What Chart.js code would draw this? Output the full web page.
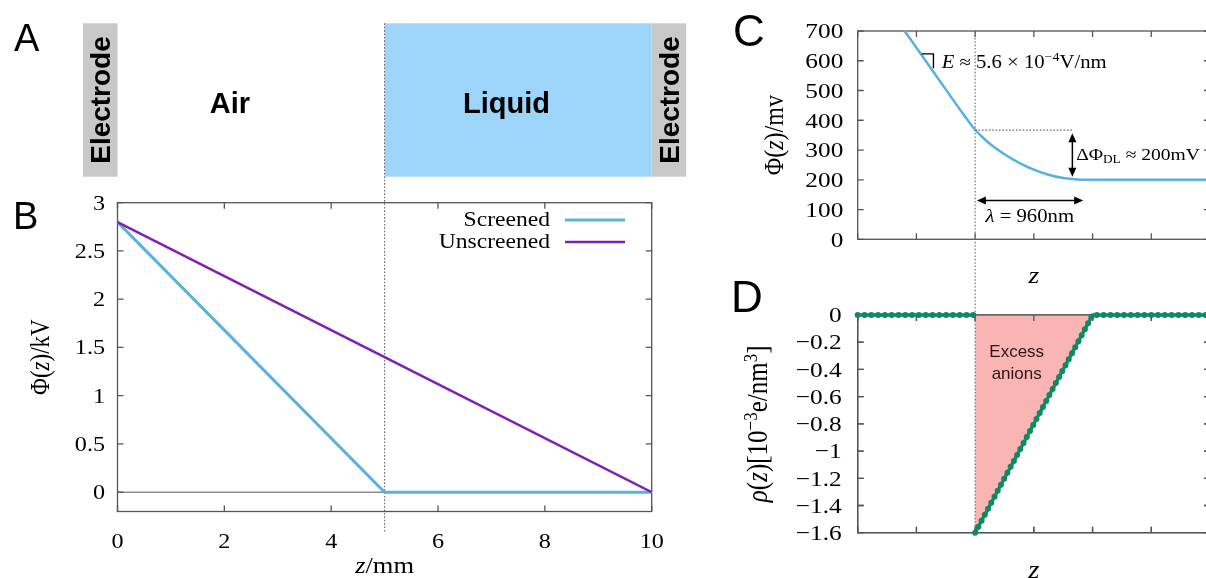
<!DOCTYPE html>
<html>
<head>
<meta charset="utf-8">
<script src="https://cdn.jsdelivr.net/npm/chart.js@4.4.1/dist/chart.umd.min.js"></script>
<style>
  html, body { margin:0; padding:0; background:#fff; width:1206px; height:578px; overflow:hidden; }
  .lbl { position:absolute; font-family:"Liberation Sans", Arial, sans-serif; line-height:1; color:#000; }
  canvas { position:absolute; }
</style>
</head>
<body>
<canvas id="cB" width="690" height="578" style="left:0;top:0"></canvas>
<canvas id="cC" width="520" height="290" style="left:700px;top:0"></canvas>
<canvas id="cD" width="520" height="288" style="left:700px;top:290px"></canvas>
<div class="lbl" style="left:14px;top:19px;font-size:38px">A</div>
<div class="lbl" style="left:13px;top:197px;font-size:38px">B</div>
<div class="lbl" style="left:733px;top:9px;font-size:44px">C</div>
<div class="lbl" style="left:731px;top:275px;font-size:44px">D</div>
<script>
// ---------------- data ----------------
const zB = [0, 5, 10];
const screenedB = [2.8, 0, 0];
const unscreenedB = [2.8, 1.4, 0];
const seriesNamesB = ['Screened', 'Unscreened'];
const xTicksB = [0, 2, 4, 6, 8, 10];
const xLabelsB = ['0', '2', '4', '6', '8', '10'];
const yTicksB = [0, 0.5, 1, 1.5, 2, 2.5, 3];
const yLabelsB = ['0', '0.5', '1', '1.5', '2', '2.5', '3'];

const zC = [0.8, 1.3, 1.8, 1.9, 2.0, 2.1, 2.25, 2.5, 2.75, 3.0, 3.25, 3.5, 3.75, 4.0, 6.0];
const phiC = [700, 560, 420, 393, 368, 348, 321, 286, 257, 234, 217, 206, 201, 200, 200];
const xTicksCD = [0, 1, 2, 3, 4, 5, 6];
const yTicksC = [0, 100, 200, 300, 400, 500, 600, 700];
const yLabelsC = ['0', '100', '200', '300', '400', '500', '600', '700'];

const zD = [0, 2, 2, 2, 4, 6];
const rhoD = [0, 0, null, -1.6, 0, 0];
const zExcess = [2, 4];
const rhoExcess = [-1.6, 0];
const yTicksD = [0, -0.2, -0.4, -0.6, -0.8, -1, -1.2, -1.4, -1.6];
const yLabelsD = ['0', '\u22120.2', '\u22120.4', '\u22120.6', '\u22120.8', '\u22121', '\u22121.2', '\u22121.4', '\u22121.6'];

// ---------------- styles ----------------
const BLUE = '#58b1e4';
const PURPLE = '#8020b0';
const GREEN = '#0f8a5f';
const PINK = '#f9b4b4';
const FRAME = '#555555';
const TICK = 6;
const SERIF = '"Liberation Serif", "Times New Roman", serif';
const SANS = '"Liberation Sans", Arial, sans-serif';
const SX = 1.15;

const pts = (xs, ys) => xs.map((x, i) => ({x: x, y: ys[i]}));
const T = (t, o) => Object.assign({t: t}, o || {});

function fontFor(s, size) {
  const sz = (s.sup || s.sub) ? size * 0.68 : size;
  return (s.i ? 'italic ' : '') + sz.toFixed(1) + 'px ' + SERIF;
}
function rich(ctx, segs, x, y, size, align, rotate, color) {
  ctx.save();
  ctx.translate(x, y);
  ctx.scale(SX, 1);
  if (rotate) ctx.rotate(-Math.PI / 2);
  let w = 0;
  for (const s of segs) { ctx.font = fontFor(s, size); w += ctx.measureText(s.t).width; }
  let cx = align === 'center' ? -w / 2 : (align === 'right' ? -w : 0);
  ctx.fillStyle = color || '#000';
  ctx.textBaseline = 'alphabetic';
  ctx.textAlign = 'left';
  const base = size * 0.33;
  for (const s of segs) {
    ctx.font = fontFor(s, size);
    const dy = s.sup ? -size * 0.36 : (s.sub ? size * 0.2 : 0);
    ctx.fillText(s.t, cx, base + dy);
    cx += ctx.measureText(s.t).width;
  }
  ctx.restore();
}
function dotted(ctx, x1, y1, x2, y2) {
  ctx.save();
  ctx.strokeStyle = '#6a6a6a'; ctx.lineWidth = 1.1; ctx.setLineDash([1.6, 1.8]);
  ctx.beginPath(); ctx.moveTo(x1, y1); ctx.lineTo(x2, y2); ctx.stroke();
  ctx.restore();
}
function head(ctx, x, y, a) {
  const L = 9, W = 4;
  const c = Math.cos(a), s = Math.sin(a);
  ctx.beginPath();
  ctx.moveTo(x, y);
  ctx.lineTo(x - L * c + W * s, y - L * s - W * c);
  ctx.lineTo(x - L * c - W * s, y - L * s + W * c);
  ctx.closePath(); ctx.fill();
}
function dblArrow(ctx, x1, y1, x2, y2) {
  const a = Math.atan2(y2 - y1, x2 - x1), c = Math.cos(a), s = Math.sin(a);
  ctx.save();
  ctx.strokeStyle = '#000'; ctx.fillStyle = '#000'; ctx.lineWidth = 1.5;
  ctx.beginPath(); ctx.moveTo(x1 + 6 * c, y1 + 6 * s); ctx.lineTo(x2 - 6 * c, y2 - 6 * s); ctx.stroke();
  head(ctx, x2, y2, a); head(ctx, x1, y1, a + Math.PI);
  ctx.restore();
}
function drawFrame(chart) {
  const ctx = chart.ctx, a = chart.chartArea, x = chart.scales.x, y = chart.scales.y;
  ctx.save();
  ctx.strokeStyle = FRAME; ctx.lineWidth = 1.3;
  ctx.beginPath();
  x.ticks.forEach(t => {
    const p = x.getPixelForValue(t.value);
    ctx.moveTo(p, a.bottom); ctx.lineTo(p, a.bottom - TICK);
    ctx.moveTo(p, a.top); ctx.lineTo(p, a.top + TICK);
  });
  y.ticks.forEach(t => {
    const p = y.getPixelForValue(t.value);
    ctx.moveTo(a.left, p); ctx.lineTo(a.left + TICK, p);
    ctx.moveTo(a.right, p); ctx.lineTo(a.right - TICK, p);
  });
  ctx.stroke();
  ctx.strokeRect(a.left, a.top, a.right - a.left, a.bottom - a.top);
  ctx.restore();
}
function axes(o) {
  return {
    x: { type: 'linear', min: o.xmin, max: o.xmax, grid: {display: false}, border: {display: false}, ticks: {display: false},
         afterBuildTicks: s => { s.ticks = o.xTicks.map(v => ({value: v})); },
         afterFit: s => { s.height = o.xh; } },
    y: { type: 'linear', min: o.ymin, max: o.ymax, grid: {display: false}, border: {display: false}, ticks: {display: false},
         afterBuildTicks: s => { s.ticks = o.yTicks.map(v => ({value: v})); },
         afterFit: s => { s.width = o.yw; } }
  };
}
function baseOptions(pad, scales) {
  return { responsive: false, animation: false, events: [], layout: {padding: pad},
           plugins: {legend: {display: false}, tooltip: {enabled: false}}, scales: scales };
}
function axisDeco(o) {
  return {
    id: 'axisDeco',
    beforeDatasetsDraw(chart) { drawFrame(chart); },
    afterDraw(chart) {
      const ctx = chart.ctx, x = chart.scales.x, y = chart.scales.y, a = chart.chartArea;
      if (o.yLabels) y.ticks.forEach((t, i) => rich(ctx, [T(o.yLabels[i])], o.yLabelX, y.getPixelForValue(t.value), o.fs, 'right'));
      if (o.xLabels) x.ticks.forEach((t, i) => rich(ctx, [T(o.xLabels[i])], x.getPixelForValue(t.value), o.xLabelY, o.fs, 'center'));
      rich(ctx, o.yTitle, o.yTitleX, (a.top + a.bottom) / 2, o.tfs, 'center', true);
      rich(ctx, o.xTitle, (a.left + a.right) / 2, o.xTitleY, o.tfs, 'center');
    }
  };
}

// ---------------- Panel A + B ----------------
const schematic = {
  id: 'schematic',
  beforeDatasetsDraw(chart) {
    const ctx = chart.ctx, x = chart.scales.x, y = chart.scales.y, a = chart.chartArea;
    const top = 23.3, bot = 176.7, ew = 34.5;
    const x0 = x.getPixelForValue(0), x5 = x.getPixelForValue(5), x10 = x.getPixelForValue(10);
    ctx.save();
    ctx.fillStyle = '#c8c8c8';
    ctx.fillRect(x0 - ew, top, ew, bot - top);
    ctx.fillRect(x10, top, ew, bot - top);
    ctx.fillStyle = '#9dd5fa';
    ctx.fillRect(x5, top, x10 - x5, bot - top);
    ctx.fillStyle = '#000';
    ctx.font = 'bold 28px ' + SANS;
    ctx.textAlign = 'center'; ctx.textBaseline = 'alphabetic';
    [x0 - ew / 2, x10 + ew / 2].forEach(cx => {
      ctx.save(); ctx.translate(cx + 10, (top + bot) / 2); ctx.rotate(-Math.PI / 2);
      ctx.fillText('Electrode', 0, 0); ctx.restore();
    });
    ctx.font = 'bold 29px ' + SANS;
    ctx.fillText('Air', 230, 113);
    ctx.fillText('Liquid', 506.5, 113);
    ctx.restore();
    // zero axis
    ctx.save();
    ctx.strokeStyle = '#555'; ctx.lineWidth = 1;
    ctx.beginPath(); ctx.moveTo(a.left, y.getPixelForValue(0)); ctx.lineTo(a.right, y.getPixelForValue(0)); ctx.stroke();
    ctx.restore();
    dotted(ctx, x5, top, x5, 531.7);
  }
};
const legendB = {
  id: 'legendB',
  afterDatasetsDraw(chart) {
    const ctx = chart.ctx;
    const rows = [219, 241];
    chart.data.datasets.forEach((ds, i) => {
      rich(ctx, [T(ds.label)], 550, rows[i], 20.5, 'right');
      ctx.save(); ctx.strokeStyle = ds.borderColor; ctx.lineWidth = ds.borderWidth;
      ctx.beginPath(); ctx.moveTo(565, rows[i] + 1); ctx.lineTo(625, rows[i] + 1); ctx.stroke(); ctx.restore();
    });
  }
};
new Chart(document.getElementById('cB'), {
  type: 'line',
  data: { datasets: [
    { label: seriesNamesB[0], data: pts(zB, screenedB), borderColor: BLUE, borderWidth: 3, pointRadius: 0, order: 2 },
    { label: seriesNamesB[1], data: pts(zB, unscreenedB), borderColor: PURPLE, borderWidth: 2.5, pointRadius: 0, order: 1 }
  ]},
  options: baseOptions({top: 202.7, right: 38.3, left: 0, bottom: 0},
    axes({xmin: 0, xmax: 10, ymin: -0.2, ymax: 3, xTicks: xTicksB, yTicks: yTicksB, xh: 66.5, yw: 117.5})),
  plugins: [
    axisDeco({ yLabels: yLabelsB, xLabels: xLabelsB, yLabelX: 105, xLabelY: 541.5, fs: 21, tfs: 23,
      yTitle: [T('\u03A6('), T('z', {i: 1}), T(')/kV')], yTitleX: 40,
      xTitle: [T('z', {i: 1}), T('/mm')], xTitleY: 565 }),
    schematic, legendB
  ]
});

// ---------------- Panel C ----------------
const annC = {
  id: 'annC',
  beforeDatasetsDraw(chart) {
    const x = chart.scales.x;
    dotted(chart.ctx, x.getPixelForValue(2), chart.chartArea.top, x.getPixelForValue(2), 290);
  },
  afterDatasetsDraw(chart) {
    const ctx = chart.ctx, x = chart.scales.x, y = chart.scales.y;
    const X = v => x.getPixelForValue(v), Y = v => y.getPixelForValue(v);
    ctx.save();
    ctx.strokeStyle = '#000'; ctx.lineWidth = 1.4;
    ctx.beginPath(); ctx.moveTo(X(1.09), Y(623)); ctx.lineTo(X(1.29), Y(623)); ctx.lineTo(X(1.29), Y(575)); ctx.stroke();
    ctx.restore();
    rich(ctx, [T('E', {i: 1}), T(' \u2248 5.6 \u00D7 10'), T('\u22124', {sup: 1}), T('V/nm')], X(1.43), Y(596), 18, 'left');
    dotted(ctx, X(2), Y(367), X(3.66), Y(367));
    dblArrow(ctx, X(3.656), Y(356), X(3.656), Y(210));
    dblArrow(ctx, X(2.03), Y(130), X(3.84), Y(130));
    rich(ctx, [T('\u0394\u03A6'), T('DL', {sub: 1}), T(' \u2248 200mV')], X(3.72), Y(286), 17, 'left');
    rich(ctx, [T('\u03BB', {i: 1}), T(' = 960nm')], X(2.93), Y(78), 18, 'center');
  }
};
new Chart(document.getElementById('cC'), {
  type: 'line',
  data: { datasets: [
    { label: 'Phi', data: pts(zC, phiC), borderColor: BLUE, borderWidth: 2.5, pointRadius: 0, cubicInterpolationMode: 'monotone' }
  ]},
  options: baseOptions({top: 31, right: 10, left: 0, bottom: 0},
    axes({xmin: 0, xmax: 6, ymin: 0, ymax: 700, xTicks: xTicksCD, yTicks: yTicksC, xh: 50.7, yw: 157.7})),
  plugins: [
    axisDeco({ yLabels: yLabelsC, xLabels: null, yLabelX: 143.3, fs: 22, tfs: 24,
      yTitle: [T('\u03A6('), T('z', {i: 1}), T(')/mv')], yTitleX: 74,
      xTitle: [T('z', {i: 1})], xTitleY: 275 }),
    annC
  ]
});

// ---------------- Panel D ----------------
const annD = {
  id: 'annD',
  afterDatasetDraw(chart, args) {
    if (args.index !== 0) return;
    const ctx = chart.ctx, x = chart.scales.x, a = chart.chartArea;
    drawFrame(chart);
    dotted(ctx, x.getPixelForValue(2), 0, x.getPixelForValue(2), a.bottom);
    ctx.save();
    ctx.fillStyle = '#301515'; ctx.font = '17px ' + SANS; ctx.textAlign = 'center'; ctx.textBaseline = 'alphabetic';
    ctx.fillText('Excess', 316.7, 67.3);
    ctx.fillText('anions', 316.7, 89.3);
    ctx.restore();
  }
};
new Chart(document.getElementById('cD'), {
  type: 'line',
  data: { datasets: [
    { label: 'excess', data: pts(zExcess, rhoExcess), borderWidth: 0, pointRadius: 0, fill: {value: 0}, backgroundColor: PINK, order: 3, clip: 10 },
    { label: 'rho', data: pts(zD, rhoD), borderColor: GREEN, borderWidth: 3.4, pointRadius: 0, spanGaps: false, order: 2, clip: 10 },
    { label: 'rhoDots', data: pts(zD, rhoD), borderColor: GREEN, borderWidth: 6, borderDash: [0, 6.8], borderCapStyle: 'round', pointRadius: 0, spanGaps: false, order: 1, clip: 10 }
  ]},
  options: baseOptions({top: 25, right: 10, left: 0, bottom: 0},
    axes({xmin: 0, xmax: 6, ymin: -1.6, ymax: 0, xTicks: xTicksCD, yTicks: yTicksD, xh: 45.3, yw: 157.7})),
  plugins: [
    axisDeco({ yLabels: yLabelsD, xLabels: null, yLabelX: 141.7, fs: 22, tfs: 25,
      yTitle: [T('\u03C1', {i: 1}), T('('), T('z', {i: 1}), T(')[10'), T('\u22123', {sup: 1}), T('e/nm'), T('3', {sup: 1}), T(']')], yTitleX: 58,
      xTitle: [T('z', {i: 1})], xTitleY: 280 }),
    annD
  ]
});
</script>
</body>
</html>
